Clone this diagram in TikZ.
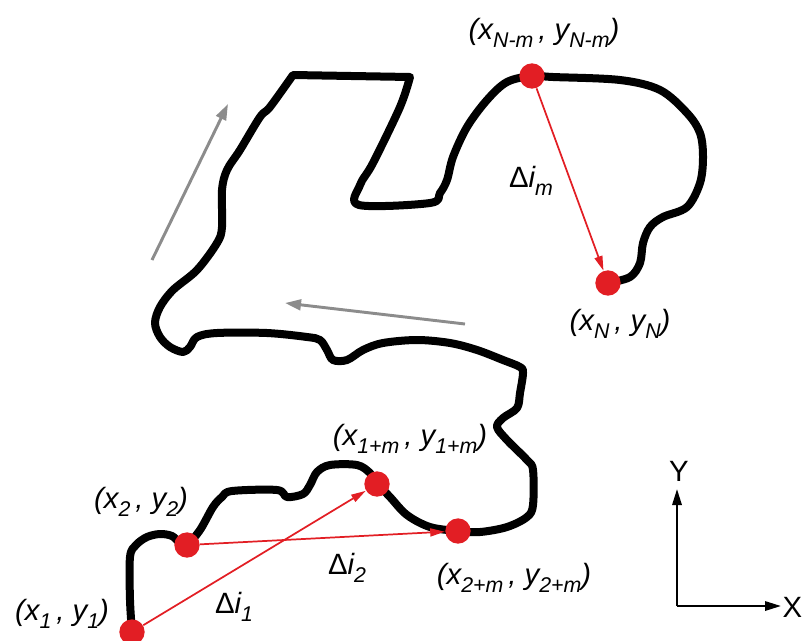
\documentclass[tikz,border=0pt]{standalone}
\usepackage{fontspec}
\setmainfont{Liberation Sans}
\usetikzlibrary{arrows.meta}

\definecolor{ptred}{RGB}{226,30,36}
\newcommand\lowsub[1]{\raisebox{-0.55ex}{\fontsize{16}{17}\selectfont #1}}

\tikzset{every picture/.style={line width=0.75pt}}
\tikzset{
  track/.style={line width=6pt, line join=round, line cap=round},
  dot/.style={circle, fill=ptred, inner sep=0pt, minimum size=19pt},
  diffarrow/.style={draw=ptred, line width=1.3pt, -{Triangle[length=11pt,width=6pt]}},
  flowarrow/.style={draw=gray!90, line width=2.2pt, -{Triangle[length=12pt,width=8pt]}},
  axisarrow/.style={line width=1.6pt, -{Triangle[length=12pt,width=7pt]}},
  lab/.style={font=\fontsize{22}{24}\selectfont\itshape, inner sep=0pt},
  axlab/.style={font=\fontsize{22}{24}\selectfont, inner sep=0pt}
}

\begin{document}
\begin{tikzpicture}[x=0.75pt,y=0.75pt,yscale=-1,xscale=1]
	\useasboundingbox (0,0) rectangle (805,640);

	%Shape: Track
	\draw [track] plot[smooth,tension=0.55] coordinates {(132,632) (130,600) (130,557) (136,545) (147,537) (160,534) (172,536) (180,543) (187,545) (200,530) (213,507) (222,497) (232,491) (277,490) (287,497) (303,494) (310,485) (317,472) (330,465) (357,465) (370,473) (377,483) (390,497) (407,515) (430,527) (458,531) (480,532) (507,527) (527,517) (533,505) (533,470) (527,460) (507,440) (497,427) (503,418) (517,408) (520,393) (523,373) (520,367) (503,360) (477,350) (450,343) (417,340) (383,343) (363,350) (347,360) (333,360) (327,350) (320,340) (307,337) (267,333) (217,333) (197,337) (190,347) (183,352) (170,347) (160,337) (155,323) (160,307) (173,290) (197,270) (217,243) (222,227) (222,190) (227,170) (240,150) (260,117) (270,107) (293,75)}
	  -- plot[smooth,tension=0.55] coordinates {(410,77) (400,107) (373,163) (360,185) (359,205) (430,203) (440,193) (447,180) (453,157) (467,127) (487,100) (507,82) (532,76) (553,77) (620,80) (660,90) (687,113) (700,133) (703,157) (700,183) (687,207) (663,217) (650,227) (643,243) (640,263) (630,277) (608,283)};

	%Shape: Points
	\node [dot] (p1) at (132,632) {};
	\node [dot] (p2) at (187,545) {};
	\node [dot] (p1m) at (377,484) {};
	\node [dot] (p2m) at (458,531) {};
	\node [dot] (pNm) at (532,76) {};
	\node [dot] (pN) at (608,283) {};

	%Shape: Differences
	\draw [diffarrow] (p1) -- (p1m);
	\draw [diffarrow] (p2) -- (p2m);
	\draw [diffarrow] (pNm) -- (pN);

	%Shape: Direction
	\coordinate (dirA) at (152,260);
	\coordinate (dirB) at (228,104);
	\coordinate (dirC) at (465,324);
	\coordinate (dirD) at (285,303);
	\draw [flowarrow] (dirA) -- (dirB);
	\draw [flowarrow] (dirC) -- (dirD);

	%Shape: Axes
	\coordinate (orig) at (677,606);
	\coordinate (yend) at (677,489);
	\coordinate (xend) at (781,606);
	\draw [axisarrow] (orig) -- (yend);
	\draw [axisarrow] (orig) -- (xend);
	\node [axlab] (ylab) at (679,471) {Y};
	\node [axlab, anchor=west] (xlab) at (782,607) {X};

	% Text Node
	\node [lab] (lab1) at (62,614) {(x\lowsub{1}\,, y\lowsub{1})};
	% Text Node
	\node [lab] (lab2) at (141,502) {(x\lowsub{2}\,, y\lowsub{2})};
	% Text Node
	\node [lab] (lab1m) at (410,439) {(x\lowsub{1+m}\,, y\lowsub{1+m})};
	% Text Node
	\node [lab] (lab2m) at (514,578) {(x\lowsub{2+m}\,, y\lowsub{2+m})};
	% Text Node
	\node [lab] (labNm) at (544,33) {(x\lowsub{N-m}\,, y\lowsub{N-m})};
	% Text Node
	\node [lab] (labN) at (620,324) {(x\lowsub{N}\,, y\lowsub{N})};
	% Text Node
	\node [lab] (d1) at (234,607) {{\upshape Δ}i\lowsub{1}};
	% Text Node
	\node [lab] (d2) at (347,568) {{\upshape Δ}i\lowsub{2}};
	% Text Node
	\node [lab] (dm) at (531,181) {{\upshape Δ}i\lowsub{m}};

\end{tikzpicture}
\end{document}
